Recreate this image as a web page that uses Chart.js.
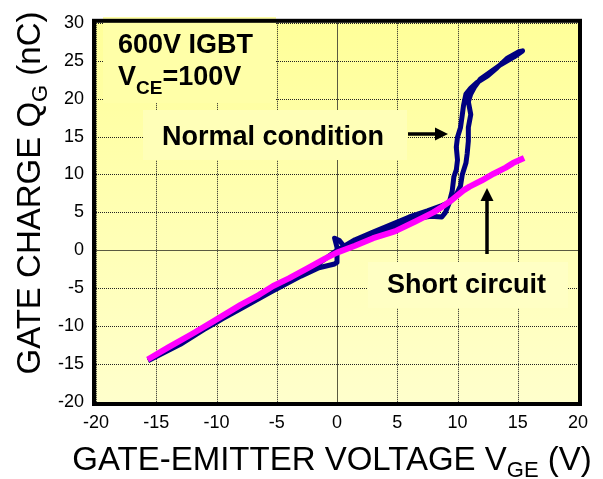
<!DOCTYPE html>
<html>
<head>
<meta charset="utf-8">
<script src="https://cdn.jsdelivr.net/npm/chart.js@4/dist/chart.umd.min.js"></script>
<style>
  html, body { margin: 0; padding: 0; background: #fff; }
  #wrap { width: 603px; height: 479px; }
</style>
</head>
<body>
<div id="wrap"><canvas id="gateCharge" width="603" height="479"></canvas></div>
<script>
// VGE (V) / QG (nC)
const vgeShort = [-15.5, -14, -12, -10.3, -8, -6.5, -5.3, -4, -2.5, -1, 0, 1.5, 3, 4.8, 6.5, 8, 8.6, 9.5, 10.5, 11, 12, 13, 14, 14.6, 15.3];
const qgShort = [-14.2, -12.8, -11.0, -9.4, -7.2, -5.9, -4.7, -3.7, -2.4, -1.1, -0.3, 0.6, 1.6, 2.5, 3.8, 5.0, 5.6, 6.6, 7.9, 8.4, 9.2, 10.1, 10.9, 11.5, 12.0];

const vgeNormal = [-15.5, -13, -10.5, -8, -5.5, -3, -1.5, -0.2, 0, 0, -0.2, 0.2, 0.6, 2, 3.5, 5, 6.5, 7.8, 8.7, 9.0, 9.3, 9.56, 9.7, 9.9, 10.0, 9.9, 10.0, 10.25, 10.4, 10.5, 10.7, 11.1, 11.6, 12.5, 13.3, 14.1, 15.1, 15.4,
  14.7, 13.6, 11.9, 11.4, 11.1, 10.9, 11.1, 10.9, 10.9, 10.8, 10.7, 10.4, 10.25, 9.8, 9.3, 8.7, 7.5, 6, 4.5, 3, 1.5, 0, -2, -4, -6, -8, -10, -12, -14, -15.5];
const qgNormal = [-14.4, -12.4, -9.9, -7.7, -5.5, -3.4, -2.3, -1.8, -1.6, 0.4, 1.6, 1.3, 0.5, 1.3, 2.3, 3.3, 4.2, 4.5, 4.4, 5.0, 6.2, 7.8, 9.7, 10.6, 11.9, 13.6, 14.9, 16.2, 17.9, 19.1, 20.6, 21.4, 22.1, 23.0, 24.1, 25.3, 26.2, 26.3,
  25.5, 24.5, 22.6, 21.5, 20.6, 19.6, 17.9, 16.2, 14.4, 12.7, 11.5, 10.0, 8.5, 7.0, 6.3, 5.9, 5.2, 4.4, 3.4, 2.4, 1.4, 0.0, -2.3, -4.1, -5.9, -7.6, -9.5, -11.3, -13.1, -14.3];

const xMin = -20, xMax = 20, xStep = 5;
const yMin = -20, yMax = 30, yStep = 5;

const FONT = "'Liberation Sans', Arial, sans-serif";

const toPoints = (xs, ys) => xs.map((x, i) => ({ x: x, y: ys[i] }));

// text made of pieces, some of them subscripts
const drawPieces = (ctx, pieces, x, y, align) => {
  let total = 0;
  pieces.forEach((p) => {
    ctx.font = p.font;
    p.w = ctx.measureText(p.t).width;
    total += p.w;
  });
  let cx = align === "center" ? x - total / 2 : x;
  ctx.textAlign = "left";
  ctx.textBaseline = "alphabetic";
  pieces.forEach((p) => {
    ctx.font = p.font;
    ctx.fillText(p.t, cx, y + (p.dy || 0));
    cx += p.w;
  });
};

const arrow = (ctx, x1, y1, x2, y2) => {
  const ang = Math.atan2(y2 - y1, x2 - x1);
  const head = 13, half = 6.5;
  ctx.strokeStyle = "#000";
  ctx.fillStyle = "#000";
  ctx.lineWidth = 3.5;
  ctx.beginPath();
  ctx.moveTo(x1, y1);
  ctx.lineTo(x2 - head * Math.cos(ang), y2 - head * Math.sin(ang));
  ctx.stroke();
  ctx.beginPath();
  ctx.moveTo(x2, y2);
  ctx.lineTo(x2 - head * Math.cos(ang) + half * Math.sin(ang), y2 - head * Math.sin(ang) - half * Math.cos(ang));
  ctx.lineTo(x2 - head * Math.cos(ang) - half * Math.sin(ang), y2 - head * Math.sin(ang) + half * Math.cos(ang));
  ctx.closePath();
  ctx.fill();
};

const backdrop = {
  id: "backdrop",
  beforeDraw(chart) {
    const { ctx, chartArea: a } = chart;
    const g = ctx.createLinearGradient(0, a.top, 0, a.bottom);
    g.addColorStop(0, "#ffff99");
    g.addColorStop(1, "#ffffcc");
    ctx.save();
    ctx.fillStyle = g;
    ctx.fillRect(a.left, a.top, a.right - a.left, a.bottom - a.top);
    ctx.restore();
  },
  beforeDatasetsDraw(chart) {
    const { ctx, chartArea: a, scales } = chart;
    ctx.save();
    ctx.lineWidth = 1;
    // dotted grid, solid zero lines
    scales.x.ticks.forEach((t) => {
      const px = Math.round(scales.x.getPixelForValue(t.value)) + 0.5;
      ctx.setLineDash(t.value === 0 ? [] : [1, 1]);
      ctx.strokeStyle = t.value === 0 ? "#5a5a40" : "#222";
      ctx.beginPath();
      ctx.moveTo(px, a.top); ctx.lineTo(px, a.bottom);
      ctx.stroke();
    });
    scales.y.ticks.forEach((t) => {
      const py = Math.round(scales.y.getPixelForValue(t.value)) + 0.5;
      ctx.setLineDash(t.value === 0 ? [] : [1, 1]);
      ctx.strokeStyle = t.value === 0 ? "#5a5a40" : "#222";
      ctx.beginPath();
      ctx.moveTo(a.left, py); ctx.lineTo(a.right, py);
      ctx.stroke();
    });
    ctx.setLineDash([]);
    // label boxes
    ctx.fillStyle = "#ffffa8";
    ctx.fillRect(103, 17, 173, 86);
    ctx.fillStyle = "#ffffb8";
    ctx.fillRect(143, 110, 264, 50);
    ctx.fillStyle = "#ffffc4";
    ctx.fillRect(368, 262, 200, 46);
    ctx.restore();
  },
  afterDraw(chart) {
    const { ctx, chartArea: a } = chart;
    ctx.save();
    ctx.strokeStyle = "#000";
    ctx.lineWidth = 4;
    ctx.strokeRect(a.left - 2, a.top - 2, a.right - a.left + 4, a.bottom - a.top + 4);

    ctx.fillStyle = "#000";
    const big = "33px " + FONT, small = "22px " + FONT;
    drawPieces(ctx, [
      { t: "GATE-EMITTER VOLTAGE V", font: big },
      { t: "GE", font: small, dy: 7 },
      { t: " (V)", font: big },
    ], 332, 470, "center");

    ctx.save();
    ctx.translate(40, 193);
    ctx.rotate(-Math.PI / 2);
    drawPieces(ctx, [
      { t: "GATE CHARGE Q", font: big },
      { t: "G", font: small, dy: 7 },
      { t: " (nC)", font: big },
    ], 0, 0, "center");
    ctx.restore();

    const bold = "bold 27px " + FONT, boldSmall = "bold 19px " + FONT;
    drawPieces(ctx, [{ t: "600V IGBT", font: bold }], 118, 53, "left");
    drawPieces(ctx, [
      { t: "V", font: bold },
      { t: "CE", font: boldSmall, dy: 9 },
      { t: "=100V", font: bold },
    ], 118, 85, "left");
    drawPieces(ctx, [{ t: "Normal condition", font: bold }], 162, 145, "left");
    drawPieces(ctx, [{ t: "Short circuit", font: bold }], 387, 293, "left");

    arrow(ctx, 408, 134, 448, 134);
    arrow(ctx, 487, 254, 487, 188);
    ctx.restore();
  },
};

const chartGate = document.getElementById("gateCharge");

const graphicGate = new Chart(chartGate, {
  type: "scatter",
  data: {
    datasets: [
      {
        label: "Short circuit",
        data: toPoints(vgeShort, qgShort),
        showLine: true,
        borderColor: "#ff00ff",
        borderWidth: 6,
        borderCapStyle: "square",
        borderJoinStyle: "round",
        pointRadius: 0,
        tension: 0,
        order: 1,
      },
      {
        label: "Normal condition",
        data: toPoints(vgeNormal, qgNormal),
        showLine: true,
        borderColor: "#000080",
        borderWidth: 5,
        borderCapStyle: "square",
        borderJoinStyle: "round",
        pointRadius: 0,
        tension: 0,
        order: 2,
      },
    ],
  },
  options: {
    responsive: false,
    devicePixelRatio: 1,
    animation: false,
    layout: { padding: { top: 12, right: 25, left: 0, bottom: 0 } },
    plugins: { legend: { display: false }, tooltip: { enabled: false } },
    scales: {
      x: {
        type: "linear",
        min: xMin,
        max: xMax,
        afterFit: (s) => { s.height = 77; },
        ticks: { stepSize: xStep, color: "#000", font: { size: 18, family: FONT }, padding: 10, maxRotation: 0 },
        grid: { display: false, drawTicks: false },
        border: { display: false },
      },
      y: {
        type: "linear",
        min: yMin,
        max: yMax,
        afterFit: (s) => { s.width = 96; },
        ticks: { stepSize: yStep, color: "#000", font: { size: 18, family: FONT }, padding: 12 },
        grid: { display: false, drawTicks: false },
        border: { display: false },
      },
    },
  },
  plugins: [backdrop],
});
</script>
</body>
</html>
